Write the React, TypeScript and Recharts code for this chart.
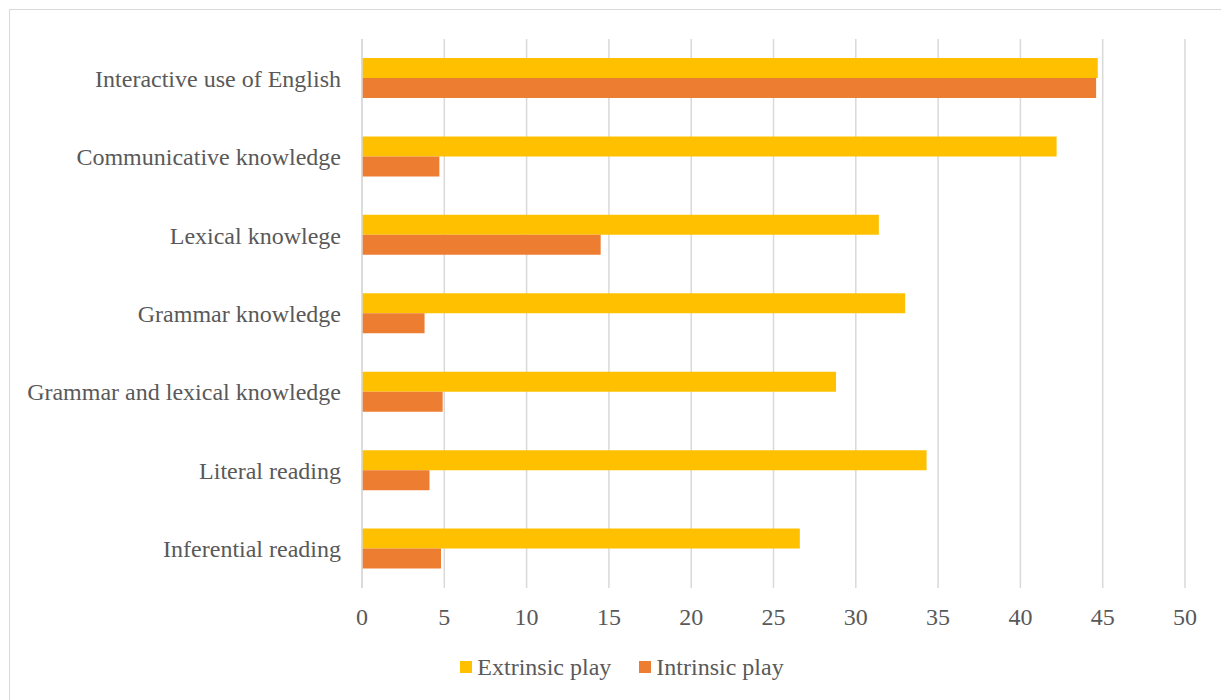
import { BarChart, Bar, XAxis, YAxis, CartesianGrid, Legend } from 'recharts';

const categories = [
  'Interactive use of English',
  'Communicative knowledge',
  'Lexical knowlege',
  'Grammar knowledge',
  'Grammar and lexical knowledge',
  'Literal reading',
  'Inferential reading',
];
const extrinsicPlay = [44.7, 42.2, 31.4, 33.0, 28.8, 34.3, 26.6];
const intrinsicPlay = [44.6, 4.7, 14.5, 3.8, 4.9, 4.1, 4.8];
const xTicks = [0, 5, 10, 15, 20, 25, 30, 35, 40, 45, 50];

const series = [
  { key: 'extrinsic', name: 'Extrinsic play', color: '#FFC000' },
  { key: 'intrinsic', name: 'Intrinsic play', color: '#ED7D31' },
];

const data = categories.map((name, i) => ({
  name,
  extrinsic: extrinsicPlay[i],
  intrinsic: intrinsicPlay[i],
}));

const FONT = '"Liberation Serif", "Times New Roman", serif';
const TEXT = '#595959';
const GRID = '#d9d9d9';

function LegendContent() {
  return (
    <div
      style={{
        display: 'flex',
        justifyContent: 'center',
        alignItems: 'center',
        height: 30,
        fontFamily: FONT,
        fontSize: 24,
        color: TEXT,
        gap: 28,
      }}
    >
      {series.map((s) => (
        <div key={s.key} style={{ display: 'flex', alignItems: 'center' }}>
          <span style={{ width: 12, height: 12, background: s.color, marginRight: 5 }} />
          <span style={{ lineHeight: '30px' }}>{s.name}</span>
        </div>
      ))}
    </div>
  );
}

export default function App() {
  return (
    <div
      style={{
        marginLeft: 1,
        marginTop: 1,
        width: 1218,
        height: 700,
        border: `1px solid ${GRID}`,
        boxSizing: 'border-box',
        background: '#fff',
      }}
    >
      <BarChart
        width={1216}
        height={690}
        data={data}
        layout="vertical"
        margin={{ top: 29, right: 41, left: 0, bottom: 42 }}
        barGap={0}
      >
        <CartesianGrid horizontal={false} stroke={GRID} strokeWidth={1.5} />
        <XAxis
          type="number"
          domain={[0, 50]}
          ticks={xTicks}
          interval={0}
          axisLine={false}
          tickLine={false}
          tickSize={0}
          tickMargin={20}
          height={40}
          tick={{ fill: TEXT, fontSize: 24, fontFamily: FONT }}
        />
        <YAxis
          type="category"
          dataKey="name"
          width={352}
          axisLine={{ stroke: GRID, strokeWidth: 1.5 }}
          tickLine={false}
          tickSize={0}
          tickMargin={21}
          tick={{ fill: TEXT, fontSize: 24, fontFamily: FONT }}
        />
        <Legend
          verticalAlign="bottom"
          content={<LegendContent />}
          wrapperStyle={{ left: 4, width: 1216, top: 642, bottom: 'auto' }}
        />
        {series.map((s) => (
          <Bar
            key={s.key}
            dataKey={s.key}
            name={s.name}
            fill={s.color}
            barSize={20}
            isAnimationActive={false}
          />
        ))}
      </BarChart>
    </div>
  );
}
